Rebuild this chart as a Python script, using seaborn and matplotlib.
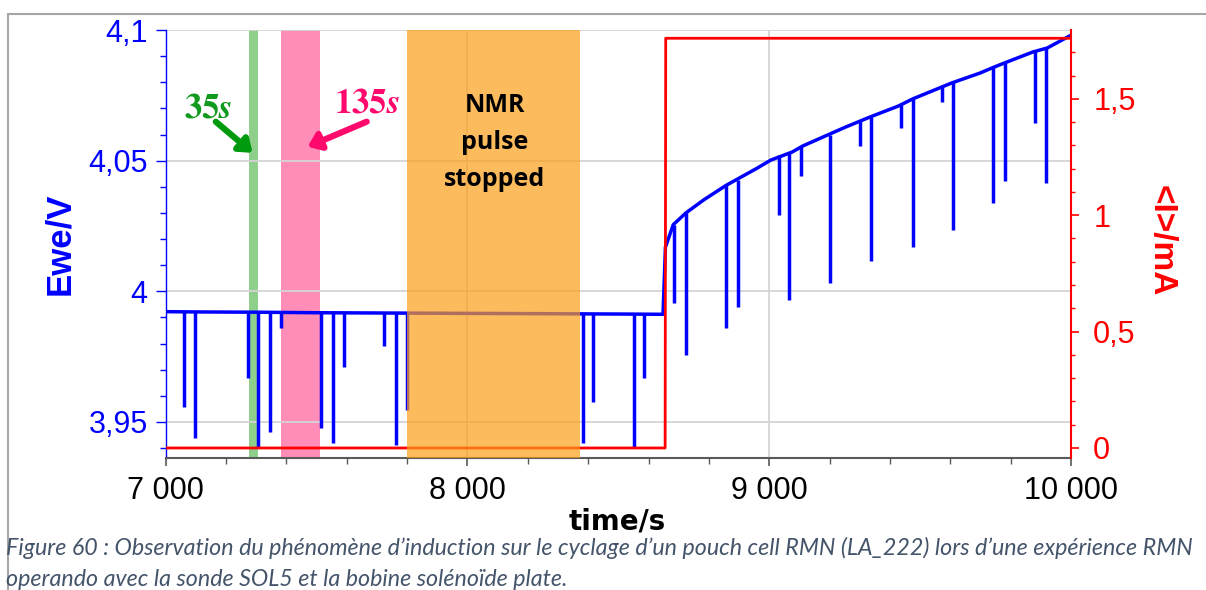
import matplotlib
matplotlib.use("Agg")
import matplotlib.pyplot as plt
import seaborn as sns
from matplotlib.ticker import FixedLocator, MultipleLocator, FixedFormatter
from matplotlib.lines import Line2D

# ---------------- data ----------------
base_time = [7000, 7100, 7300, 7500, 7700, 7900, 8100, 8300, 8500, 8648,
             8656, 8682, 8724, 8782, 8823, 8858, 8958, 9005, 9076, 9111,
             9193, 9252, 9334, 9428, 9475, 9604, 9698, 9745, 9780, 9874,
             9921, 10000]
base_ewe = [3.9922, 3.9921, 3.9920, 3.9918, 3.9917, 3.9916, 3.9915, 3.9914, 3.9913, 3.9912,
            4.0169, 4.0255, 4.0300, 4.0349, 4.0380, 4.0406, 4.0470, 4.0502, 4.0533, 4.0556,
            4.0598, 4.0628, 4.0667, 4.0709, 4.0736, 4.0797, 4.0835, 4.0858, 4.0874, 4.0916,
            4.0931, 4.0980]

spike_time = [7060, 7096, 7272, 7305, 7345, 7381, 7516, 7554, 7591, 7725, 7763, 7798,
              8384, 8417, 8553, 8586,
              8686, 8724, 8858, 8896, 9032, 9067, 9105, 9202, 9302, 9337, 9436, 9475,
              9572, 9610, 9743, 9782, 9882, 9918]
spike_top = [3.9921, 3.9921, 3.9920, 3.9920, 3.9919, 3.9919, 3.9918, 3.9918, 3.9918, 3.9917, 3.9917, 3.9916,
             3.9914, 3.9914, 3.9913, 3.9913,
             4.0255, 4.0300, 4.0406, 4.0425, 4.0520, 4.0530, 4.0552, 4.0600, 4.0652, 4.0668, 4.0713, 4.0736,
             4.0785, 4.0800, 4.0858, 4.0874, 4.0920, 4.0931]
spike_bottom = [3.9556, 3.9440, 3.9667, 3.9400, 3.9460, 3.9858, 3.9475, 3.9420, 3.9710, 3.9790, 3.9410, 3.9544,
                3.9418, 3.9575, 3.9402, 3.9667,
                3.9954, 3.9755, 3.9860, 3.9939, 4.0291, 3.9966, 4.0440, 4.0030, 4.0556, 4.0115, 4.0625, 4.0169,
                4.0724, 4.0234, 4.0337, 4.0421, 4.0644, 4.0414]

current_time = [7000, 8655, 8657, 10000]
current_ma = [0.0, 0.0, 1.76, 1.76]

span_35s = (7276, 7307)
span_135s = (7381, 7510)
span_nmr = (7798, 8374)

x_ticks = [7000, 8000, 9000, 10000]
x_labels = ["7 000", "8 000", "9 000", "10 000"]
left_ticks = [3.95, 4.0, 4.05, 4.1]
left_labels = ["3,95", "4", "4,05", "4,1"]
right_ticks = [0, 0.5, 1, 1.5]
right_labels = ["0", "0,5", "1", "1,5"]

caption_1 = ("Figure 60 : Observation du phénomène d\u2019induction sur le cyclage d\u2019un pouch cell "
             "RMN (LA_222) lors d\u2019une expérience RMN")
caption_2 = "operando avec la sonde SOL5 et la bobine solénoïde plate."

# ---------------- style ----------------
sns.set_theme(style="white")
plt.rcParams["font.family"] = ["Liberation Sans", "DejaVu Sans"]
plt.rcParams["mathtext.fontset"] = "stix"

W, H = 1206, 590
fig = plt.figure(figsize=(W / 100, H / 100), dpi=100)
fig.patch.set_facecolor("white")
x0, x1, ytop, ybot = 165.7, 1071.0, 30.0, 458.0
ax1 = fig.add_axes([x0 / W, 1 - ybot / H, (x1 - x0) / W, (ybot - ytop) / H])
ax1.set_facecolor("white")
ax2 = ax1.twinx()

BLUE = "#0000FF"
RED = "#FF0000"

# spans
ax1.axvspan(*span_35s, color="#8ED08B", lw=0, zorder=0.2)
ax1.axvspan(*span_135s, color="#FF8DB8", lw=0, zorder=0.2)

# voltage
sns.lineplot(x=base_time, y=base_ewe, ax=ax1, color=BLUE, lw=2.5,
             estimator=None, sort=False, zorder=3)
ax1.vlines(spike_time, spike_bottom, spike_top, color=BLUE, lw=2.5, zorder=3)

# current
sns.lineplot(x=current_time, y=current_ma, ax=ax2, color=RED, lw=2.0,
             estimator=None, sort=False, zorder=3)

# NMR span on top
ax2.axvspan(*span_nmr, color="#FC9E19", alpha=0.7, lw=0, zorder=5)

# limits
ax1.set_xlim(7000, 10000)
ax1.set_ylim(3.9362, 4.1)
ax2.set_ylim(-0.043, 1.7955)

# grid
ax1.set_axisbelow(True)
ax1.grid(True, which="major", color="#D4D4D4", lw=1.3)
ax2.grid(False)

# ticks
ax1.xaxis.set_major_locator(FixedLocator(x_ticks))
ax1.xaxis.set_major_formatter(FixedFormatter(x_labels))
ax1.xaxis.set_minor_locator(MultipleLocator(200))
ax1.yaxis.set_major_locator(FixedLocator(left_ticks))
ax1.yaxis.set_major_formatter(FixedFormatter(left_labels))
ax1.yaxis.set_minor_locator(MultipleLocator(0.01))
ax2.yaxis.set_major_locator(FixedLocator(right_ticks))
ax2.yaxis.set_major_formatter(FixedFormatter(right_labels))
ax2.yaxis.set_minor_locator(MultipleLocator(0.1))

ax1.tick_params(axis="x", which="major", direction="out", length=6, width=1.2,
                color="#595959", labelcolor="black", labelsize=22, pad=7, bottom=True)
ax1.tick_params(axis="x", which="minor", direction="out", length=4, width=1.0,
                color="#595959", bottom=True)
ax1.tick_params(axis="y", which="major", direction="out", length=7, width=1.0,
                color=BLUE, labelcolor=BLUE, labelsize=22, pad=6, left=True)
ax1.tick_params(axis="y", which="minor", direction="out", length=4, width=1.0,
                color=BLUE, left=True)
ax2.tick_params(axis="y", which="major", direction="out", length=6, width=1.2,
                color=RED, labelcolor=RED, labelsize=22, pad=10, right=True)
ax2.tick_params(axis="y", which="minor", direction="out", length=3, width=1.0,
                color=RED, right=True)

# spines
for s in ["top", "right"]:
    ax1.spines[s].set_visible(False)
ax1.spines["left"].set_color(BLUE)
ax1.spines["left"].set_linewidth(1.0)
ax1.spines["bottom"].set_color("#595959")
ax1.spines["bottom"].set_linewidth(1.5)
for s in ["top", "left", "bottom"]:
    ax2.spines[s].set_visible(False)
ax2.spines["right"].set_color(RED)
ax2.spines["right"].set_linewidth(1.5)

# axis labels
ax1.set_ylabel("Ewe/V", color=BLUE, fontsize=25, fontweight="bold")
ax1.yaxis.label.set_verticalalignment("center")
ax1.yaxis.set_label_coords((59.5 - x0) / (x1 - x0), (ybot - 243.5) / (ybot - ytop))
ax2.set_ylabel("<I>/mA", color=RED, fontsize=24, fontweight="bold", rotation=270)
ax2.yaxis.label.set_verticalalignment("center")
ax2.yaxis.set_label_coords((1161.5 - x0) / (x1 - x0), (ybot - 241) / (ybot - ytop))
ax1.set_xlabel("time/s", color="black", fontsize=20, fontweight="bold",
               family=["DejaVu Sans"])
ax1.xaxis.label.set_verticalalignment("baseline")
ax1.xaxis.set_label_coords((617 - x0) / (x1 - x0), (ybot - 529) / (ybot - ytop))

# annotations
GREEN_T = "#119A1E"
PINK_T = "#FF0A6C"
ax1.text(7142, 4.0703, r"$\mathbf{35}\boldsymbol{s}$", color=GREEN_T, fontsize=25,
         ha="center", va="center", zorder=6)
ax1.annotate("", xy=(7288, 4.0530), xytext=(7166, 4.0649),
             arrowprops=dict(arrowstyle="-|>,head_length=0.6,head_width=0.45",
                             color="#009A0E", lw=4.5, shrinkA=0, shrinkB=0), zorder=6)
ax1.text(7666, 4.0722, r"$\mathbf{135}\boldsymbol{s}$", color=PINK_T, fontsize=25,
         ha="center", va="center", zorder=6)
ax1.annotate("", xy=(7470, 4.0553), xytext=(7666, 4.0649),
             arrowprops=dict(arrowstyle="-|>,head_length=0.6,head_width=0.45",
                             color="#FF0A6C", lw=4.5, shrinkA=0, shrinkB=0), zorder=6)
ax2.text(8090, 4.0569, "NMR\npulse\nstopped", transform=ax1.transData,
         ha="center", va="center", fontsize=18, fontweight="bold",
         family=["Open Sans", "DejaVu Sans"], color="black", linespacing=1.62, zorder=7)

# frame lines of the figure
fig.add_artist(Line2D([8 / W, 1.0], [1 - 13.5 / H, 1 - 13.5 / H], color="#A6A6A6", lw=1.5))
fig.add_artist(Line2D([8 / W, 8 / W], [0.0, 1 - 13.5 / H], color="#A6A6A6", lw=1.5))

# caption
cap_kw = dict(family=["Lato", "DejaVu Sans"], style="italic", color="#44546A")
c1 = fig.text(6 / W, 1 - 555 / H, caption_1, fontsize=14, ha="left", va="baseline", **cap_kw)
c2 = fig.text(6 / W, 1 - 586 / H, caption_2, fontsize=14, ha="left", va="baseline", **cap_kw)
fig.canvas.draw()
w1 = c1.get_window_extent().width
fs = 14 * 1194 / w1
c1.set_fontsize(fs)
c2.set_fontsize(fs)

fig.savefig("out.png", dpi=100, facecolor="white")
